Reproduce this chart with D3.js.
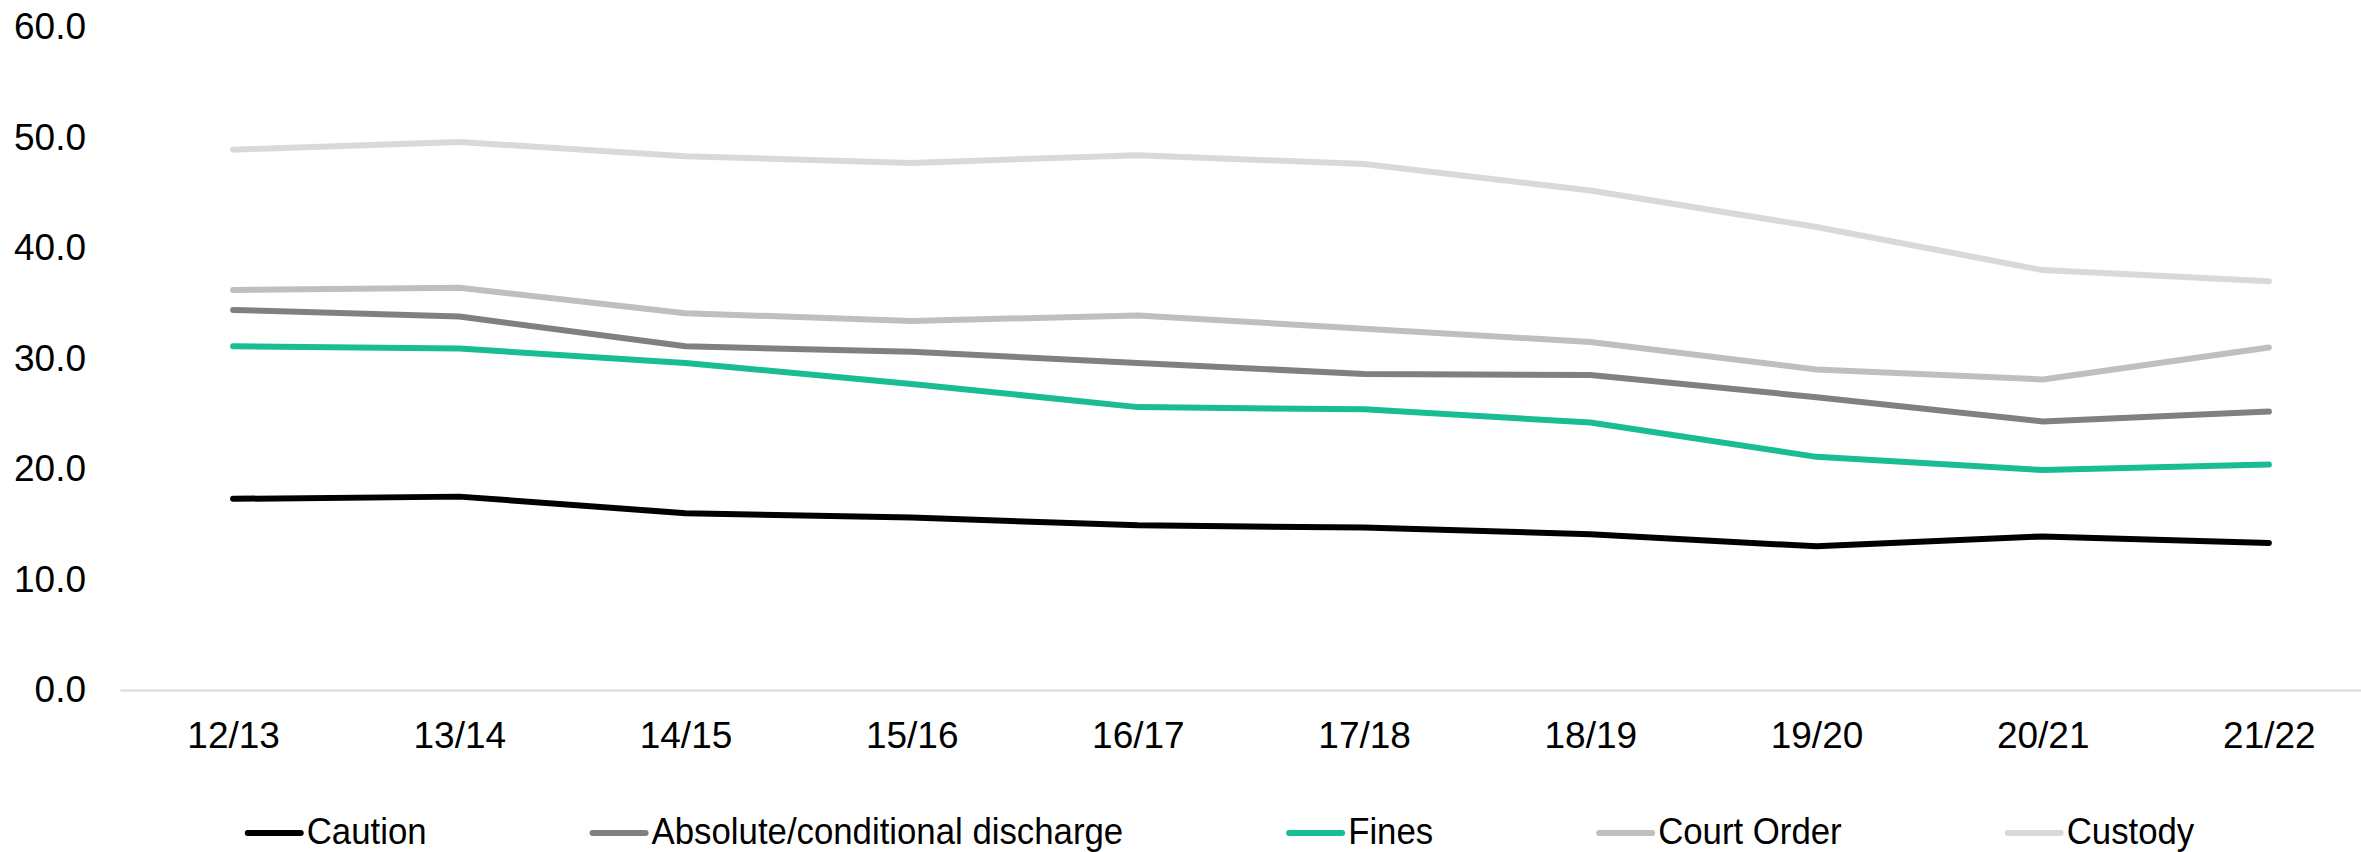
<!DOCTYPE html>
<html>
<head>
<meta charset="utf-8">
<script src="https://cdn.jsdelivr.net/npm/d3@7"></script>
<style>
  html, body { margin: 0; padding: 0; background: #ffffff; }
  svg { display: block; }
  text { font-family: "Liberation Sans", Arial, sans-serif; fill: #000; }
</style>
</head>
<body>
<svg id="chart" width="2361" height="852"></svg>
<script>
// Financial years on the x axis
const years = ["12/13", "13/14", "14/15", "15/16", "16/17", "17/18", "18/19", "19/20", "20/21", "21/22"];

// Series values (percent)
const caution   = [17.3, 17.5, 16.0, 15.6, 14.9, 14.7, 14.1, 13.0, 13.9, 13.3];
const discharge = [34.4, 33.8, 31.1, 30.6, 29.6, 28.6, 28.5, 26.5, 24.3, 25.2];
const fines     = [31.1, 30.9, 29.6, 27.7, 25.6, 25.4, 24.2, 21.1, 19.9, 20.4];
const courtOrder = [36.2, 36.4, 34.1, 33.4, 33.9, 32.7, 31.5, 29.0, 28.1, 31.0];
const custody   = [48.9, 49.6, 48.3, 47.7, 48.4, 47.6, 45.2, 41.9, 38.0, 37.0];

const seriesNames = ["Caution", "Absolute/conditional discharge", "Fines", "Court Order", "Custody"];
const seriesColors = ["#000000", "#808080", "#1abc94", "#bfbfbf", "#d9d9d9"];
const yTicks = [0, 10, 20, 30, 40, 50, 60];

const series = [caution, discharge, fines, courtOrder, custody].map((values, i) => ({
  name: seriesNames[i],
  color: seriesColors[i],
  values
}));

const svg = d3.select("#chart");

const x = d3.scalePoint().domain(years).range([120, 2382]).padding(0.5);
const y = d3.scaleLinear().domain([0, 60]).range([690, 27]);

// Y axis labels only (no gridlines, no axis line)
const yAxis = svg.append("g")
  .attr("transform", "translate(120,0)")
  .call(d3.axisLeft(y).tickValues(yTicks).tickFormat(d3.format(".1f")).tickSize(0).tickPadding(34));
yAxis.select(".domain").remove();
yAxis.selectAll("text")
  .attr("font-size", 37)
  .attr("font-family", "Liberation Sans, Arial, sans-serif")
  .attr("fill", "#000");

// X axis baseline and year labels
const xAxis = svg.append("g")
  .attr("transform", `translate(0,${y(0)})`)
  .call(d3.axisBottom(x).tickSize(0).tickSizeOuter(0).tickPadding(32));
xAxis.select(".domain").attr("stroke", "#d9d9d9").attr("stroke-width", 2);
xAxis.selectAll("text")
  .attr("font-size", 37)
  .attr("font-family", "Liberation Sans, Arial, sans-serif")
  .attr("fill", "#000");

// Lines
const line = d3.line()
  .x((d, i) => x(years[i]))
  .y(d => y(d));

svg.append("g")
  .selectAll("path")
  .data(series.slice().reverse())
  .join("path")
  .attr("d", d => line(d.values))
  .attr("fill", "none")
  .attr("stroke", d => d.color)
  .attr("stroke-width", 6)
  .attr("stroke-linecap", "round")
  .attr("stroke-linejoin", "round");

// Legend along the bottom, laid out left to right (slightly condensed labels)
const legend = svg.append("g");
const swatch = 53, swatchGap = 6, itemGap = 166, squeeze = 0.94;
let cursor = 0;
const items = legend.selectAll("g")
  .data(series)
  .join("g");
items.append("line")
  .attr("x1", 0).attr("x2", swatch)
  .attr("y1", 0).attr("y2", 0)
  .attr("stroke", d => d.color)
  .attr("stroke-width", 6)
  .attr("stroke-linecap", "round");
items.append("text")
  .attr("transform", `translate(${swatch + swatchGap},11) scale(${squeeze},1)`)
  .attr("font-size", 37)
  .text(d => d.name);
items.each(function () {
  const w = swatch + swatchGap + squeeze * this.querySelector("text").getComputedTextLength();
  d3.select(this).attr("transform", `translate(${cursor},0)`);
  cursor += w + itemGap;
});
const legendWidth = cursor - itemGap;
legend.attr("transform", `translate(${1221 - legendWidth / 2},833)`);
</script>
</body>
</html>
